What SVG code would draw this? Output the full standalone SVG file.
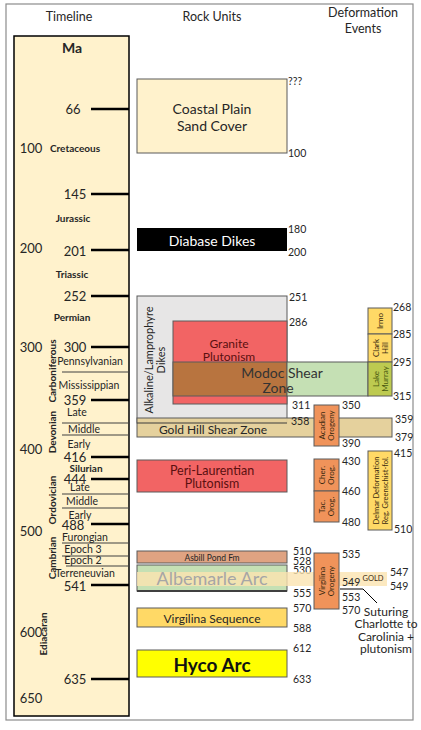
<svg xmlns="http://www.w3.org/2000/svg" width="421" height="730" viewBox="0 0 421 730">
<style>
text{font-family:Lato,"Open Sans","Liberation Sans",sans-serif;fill:#262626}
.hd{font-size:12.5px}
.num{font-size:13px;text-anchor:middle;dominant-baseline:central}
.lab{font-size:10.5px;dominant-baseline:central}
.per{font-size:10px;font-weight:bold;text-anchor:middle;dominant-baseline:central}
.ep{font-size:10.5px;text-anchor:middle;dominant-baseline:central}
.c{text-anchor:middle;dominant-baseline:central}
.tk{stroke:#000;stroke-width:2.5}
.thin{stroke:#404040;stroke-width:1}
.box{stroke:#5a5a5a;stroke-width:1}
.sm{font-size:8px;text-anchor:middle;dominant-baseline:central;fill:#3a2a10}
</style>
<rect x="6" y="4" width="407" height="716" fill="#fff" stroke="#8c8c8c" stroke-width="1.2"/>
<g id="headers">
<text class="hd c" x="69" y="16">Timeline</text>
<text class="hd c" x="212" y="16">Rock Units</text>
<text class="hd c" x="363" y="12">Deformation</text>
<text class="hd c" x="363" y="28">Events</text>
</g>
<g id="timeline">
<rect x="14" y="36" width="115" height="680" fill="#FFF2CC" stroke="#000" stroke-width="1.5"/>
<text x="72" y="47" class="c" style="font-size:14px;font-weight:bold">Ma</text>
<g>
<line class="tk" x1="91" y1="109" x2="129" y2="109"/>
<line class="tk" x1="91" y1="194" x2="129" y2="194"/>
<line class="tk" x1="91" y1="250" x2="129" y2="250"/>
<line class="tk" x1="91" y1="296" x2="129" y2="296"/>
<line class="tk" x1="91" y1="347" x2="129" y2="347"/>
<line class="tk" x1="91" y1="400" x2="129" y2="400"/>
<line class="tk" x1="91" y1="457" x2="129" y2="457"/>
<line class="tk" x1="91" y1="479" x2="129" y2="479"/>
<line class="tk" x1="91" y1="524" x2="129" y2="524"/>
<line class="tk" x1="91" y1="585" x2="129" y2="585"/>
<line class="tk" x1="91" y1="679" x2="129" y2="679"/>
<line class="thin" x1="62" y1="372" x2="129" y2="372"/>
<line class="thin" x1="62" y1="423" x2="129" y2="423"/>
<line class="thin" x1="62" y1="435" x2="129" y2="435"/>
<line class="thin" x1="62" y1="494" x2="129" y2="494"/>
<line class="thin" x1="62" y1="508" x2="129" y2="508"/>
<line class="thin" x1="62" y1="543" x2="129" y2="543"/>
<line class="thin" x1="62" y1="556" x2="129" y2="556"/>
<line class="thin" x1="66" y1="566" x2="129" y2="566"/>
</g>
<text class="num" x="73" y="109">66</text>
<text class="num" x="75" y="194">145</text>
<text class="num" x="75" y="251">201</text>
<text class="num" x="75" y="296">252</text>
<text class="num" x="75" y="347">300</text>
<text class="num" x="75" y="400">359</text>
<text class="num" x="75" y="457">416</text>
<text class="num" x="75" y="479">444</text>
<text class="num" x="73" y="525">488</text>
<text class="num" x="75" y="586">541</text>
<text class="num" x="75" y="679">635</text>
<text class="num" x="31" y="148">100</text>
<text class="num" x="31" y="248">200</text>
<text class="num" x="31" y="347">300</text>
<text class="num" x="31" y="449">400</text>
<text class="num" x="31" y="531">500</text>
<text class="num" x="31" y="632">600</text>
<text class="num" x="31" y="698">650</text>
<text class="per" x="75" y="148">Cretaceous</text>
<text class="per" x="73" y="218">Jurassic</text>
<text class="per" x="72" y="274">Triassic</text>
<text class="per" x="72" y="317">Permian</text>
<text class="per" x="86" y="468">Silurian</text>
<text class="per" transform="translate(52,371) rotate(-90)">Carboniferous</text>
<text class="per" transform="translate(52,432) rotate(-90)">Devonian</text>
<text class="per" transform="translate(52,500) rotate(-90)">Ordovician</text>
<text class="per" transform="translate(52,558) rotate(-90)">Cambrian</text>
<text class="per" transform="translate(43,634) rotate(-90)">Ediacaran</text>
<text class="ep" x="90" y="361">Pennsylvanian</text>
<text class="ep" x="89" y="385">Mississippian</text>
<text class="ep" x="77" y="412">Late</text>
<text class="ep" x="84" y="429">Middle</text>
<text class="ep" x="79" y="444">Early</text>
<text class="ep" x="80" y="487">Late</text>
<text class="ep" x="82" y="501">Middle</text>
<text class="ep" x="80" y="515">Early</text>
<text class="ep" x="85" y="537">Furongian</text>
<text class="ep" x="83" y="549">Epoch 3</text>
<text class="ep" x="83" y="560">Epoch 2</text>
<text class="ep" x="85" y="573">Terreneuvian</text>
</g>
<g id="coastal-plain">
<rect class="box" x="137" y="79" width="150" height="74" fill="#FFF2CC"/>
<text class="c" x="212" y="108" style="font-size:14px">Coastal Plain</text>
<text class="c" x="212" y="125" style="font-size:14px">Sand Cover</text>
<text class="lab" x="288" y="81">???</text>
<text class="lab" x="288" y="153">100</text>
</g>
<g id="diabase-dikes">
<rect x="137" y="228" width="150" height="23" fill="#000"/>
<text class="c" x="212" y="240" style="font-size:14px;fill:#fff">Diabase Dikes</text>
<text class="lab" x="288" y="229">180</text>
<text class="lab" x="288" y="252">200</text>
</g>
<g id="alkaline-dikes">
<rect class="box" x="137" y="296" width="150" height="127" fill="#E7E6E6"/>
<text class="c" transform="translate(148,360) rotate(-90)" style="font-size:11px">Alkaline/Lamprophyre</text>
<text class="c" transform="translate(160,360) rotate(-90)" style="font-size:11px">Dikes</text>
<text class="lab" x="289" y="297">251</text>
</g>
<g id="granite-plutonism">
<rect class="box" x="173" y="321" width="114" height="83" fill="#F26464"/>
<text class="c" x="229" y="343" style="font-size:12px;fill:#5a1010">Granite</text>
<text class="c" x="229" y="356" style="font-size:12px;fill:#5a1010">Plutonism</text>
<text class="lab" x="289" y="322">286</text>
<text class="lab" x="292" y="405">311</text>
</g>
<g id="modoc-shear-zone">
<rect class="box" x="173" y="362" width="114" height="34" fill="#B8743F"/>
<rect class="box" x="287" y="362" width="81" height="34" fill="#C5E0B4"/>
<text class="c" x="282" y="372" style="font-size:14px;fill:#333">Modoc Shear</text>
<text class="c" x="278" y="387" style="font-size:14px;fill:#333">Zone</text>
</g>
<g id="gold-hill-shear-zone">
<rect class="box" x="137" y="418" width="255" height="19" fill="#E4CF98" fill-opacity="0.95"/>
<line class="thin" x1="137" y1="423" x2="287" y2="423"/>
<text class="c" x="213" y="429" style="font-size:12px">Gold Hill Shear Zone</text>
<text class="lab" x="291" y="421">358</text>
<text class="lab" x="395" y="419">359</text>
<text class="lab" x="395" y="437">379</text>
</g>
<g id="irmo">
<rect class="box" x="368" y="308" width="24" height="26" fill="#FFD966"/>
<text class="sm" transform="translate(380,321) rotate(-90)">Irmo</text>
<text class="lab" x="393" y="307">268</text>
<text class="lab" x="393" y="334">285</text>
</g>
<g id="clark-hill">
<rect class="box" x="368" y="334" width="24" height="28" fill="#FFD966"/>
<text class="sm" transform="translate(376,348) rotate(-90)">Clark</text>
<text class="sm" transform="translate(385,348) rotate(-90)">Hill</text>
<text class="lab" x="393" y="362">295</text>
</g>
<g id="lake-murray">
<rect class="box" x="368" y="362" width="24" height="34" fill="#BDCA50"/>
<text class="sm" transform="translate(376,379) rotate(-90)" style="fill:#4a5a10">Lake</text>
<text class="sm" transform="translate(385,379) rotate(-90)" style="fill:#4a5a10">Murray</text>
<text class="lab" x="393" y="396">315</text>
</g>
<g id="acadian-orogeny">
<rect class="box" x="314" y="405" width="25" height="41" fill="#F0935A"/>
<text class="sm" transform="translate(322,425.5) rotate(-90)">Acadian</text>
<text class="sm" transform="translate(331,425.5) rotate(-90)">Orogeny</text>
<text class="lab" x="342" y="405">350</text>
<text class="lab" x="342" y="443">390</text>
</g>
<g id="peri-laurentian-plutonism">
<rect class="box" x="137" y="460" width="150" height="32" fill="#F26464"/>
<text class="c" x="212" y="470" style="font-size:12.5px;fill:#5a1010">Peri-Laurentian</text>
<text class="c" x="212" y="483" style="font-size:12.5px;fill:#5a1010">Plutonism</text>
</g>
<g id="cher-orogeny">
<rect class="box" x="314" y="459" width="25" height="32" fill="#F0935A"/>
<text class="sm" transform="translate(322,475) rotate(-90)">Cher.</text>
<text class="sm" transform="translate(331,475) rotate(-90)">Orog.</text>
<text class="lab" x="342" y="461">430</text>
<text class="lab" x="342" y="491">460</text>
</g>
<g id="tac-orogeny">
<rect class="box" x="314" y="491" width="25" height="31" fill="#F0935A"/>
<text class="sm" transform="translate(322,506.5) rotate(-90)">Tac.</text>
<text class="sm" transform="translate(331,506.5) rotate(-90)">Orog.</text>
<text class="lab" x="342" y="522">480</text>
</g>
<g id="delmar-deformation">
<rect class="box" x="368" y="451" width="24" height="79" fill="#FFD966"/>
<text class="sm" transform="translate(376,490.5) rotate(-90)" style="font-size:7.5px">Delmar Deformation</text>
<text class="sm" transform="translate(385,490.5) rotate(-90)" style="font-size:7.5px">Reg. Greenschist-fol.</text>
<text class="lab" x="394" y="453">415</text>
<text class="lab" x="394" y="529">510</text>
</g>
<g id="asbill-pond-fm">
<rect class="box" x="137" y="551" width="150" height="12" fill="#DFA382"/>
<text class="c" x="212" y="557.5" style="font-size:8.5px">Asbill Pond Fm</text>
<text class="lab" x="293" y="551">510</text>
<text class="lab" x="293" y="561">528</text>
</g>
<g id="albemarle-arc">
<rect class="box" x="137" y="565" width="150" height="26" fill="#C5E0B4"/>
<line x1="137" y1="591" x2="287" y2="591" stroke="#404040" stroke-width="2"/>
<text class="lab" x="293" y="570">530</text>
<text class="lab" x="293" y="593">555</text>
</g>
<g id="gold">
<rect x="137" y="572" width="250" height="14" fill="#FBE3B0" fill-opacity="0.8"/>
<text class="c" x="212" y="578" style="font-size:18px;fill:#A6A6A6">Albemarle Arc</text>
<text class="c" x="373" y="578" style="font-size:7.5px;fill:#3a2a10">GOLD</text>
<text class="lab" x="390" y="572">547</text>
<text class="lab" x="390" y="586">549</text>
</g>
<g id="virgilina-orogeny">
<rect class="box" x="314" y="553" width="25" height="56" fill="#F0935A"/>
<text class="sm" transform="translate(322,581) rotate(-90)">Virgilina</text>
<text class="sm" transform="translate(331,581) rotate(-90)">Orogeny</text>
<text class="lab" x="342" y="554">535</text>
<text class="lab" x="342" y="582">549</text>
<text class="lab" x="342" y="597">553</text>
<text class="lab" x="342" y="610">570</text>
</g>
<g id="virgilina-sequence">
<rect class="box" x="137" y="608" width="150" height="19" fill="#FFD966"/>
<text class="c" x="212" y="618" style="font-size:12px">Virgilina Sequence</text>
<text class="lab" x="293" y="608">570</text>
<text class="lab" x="293" y="628">588</text>
</g>
<g id="hyco-arc">
<rect class="box" x="137" y="650" width="150" height="27" fill="#FFFF00"/>
<text class="c" x="212" y="664" style="font-size:19px;font-weight:bold;fill:#111">Hyco Arc</text>
<text class="lab" x="293" y="648">612</text>
<text class="lab" x="293" y="679">633</text>
</g>
<g id="suturing-note">
<text class="c" x="386" y="611" style="font-size:12px">Suturing</text>
<text class="c" x="386" y="623" style="font-size:12px">Charlotte to</text>
<text class="c" x="386" y="636" style="font-size:12px">Carolinia +</text>
<text class="c" x="386" y="648" style="font-size:12px">plutonism</text>
</g>
<g id="connectors">
<polyline points="340,589 363,589 377,603" fill="none" stroke="#000" stroke-width="1"/>
</g>
</svg>
